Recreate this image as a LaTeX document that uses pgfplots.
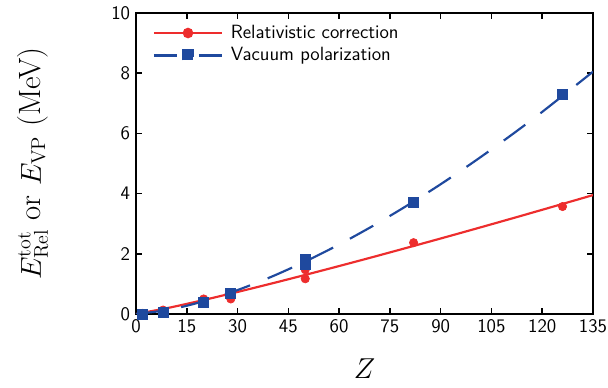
\documentclass[border=0pt]{standalone}
\usepackage{pgfplots}
\pgfplotsset{compat=1.18}
\definecolor{cred}{RGB}{237,45,45}
\definecolor{cblue}{RGB}{31,73,158}
\begin{document}
\begin{tikzpicture}
\begin{axis}[
  name=ax,
  scale only axis,
  width=274.2pt, height=180.6pt,
  xmin=0, xmax=135, ymin=0, ymax=10,
  xtick={0,15,30,45,60,75,90,105,120,135},
  ytick={0,2,4,6,8,10},
  tick align=inside,
  major tick length=3.6pt,
  axis line style={line width=0.9pt},
  every tick/.style={black, line width=0.9pt},
  tick label style={font=\sffamily\fontsize{11.5}{13}\selectfont},
  /pgf/number format/assume math mode=true,
  xlabel={\fontsize{18}{20}\selectfont $Z$},
  ylabel={\fontsize{18.5}{20}\selectfont $E^{\mathrm{tot}}_{\mathrm{Rel}}$ or $E_{\mathrm{VP}}$ (MeV)},
  xlabel style={at={(axis description cs:0.5,-0.18)}, anchor=center},
  ylabel style={at={(axis description cs:-0.225,0.5)}, anchor=center},
  legend style={draw=none, fill=none, at={(axis description cs:0.025,0.983)}, anchor=north west,
    font=\sffamily\fontsize{11.5}{13}\selectfont, row sep=0pt},
  legend cell align=left,
]
\addplot[cred, line width=1.3pt, smooth,
  legend image code/.code={\draw[cred, line width=1.3pt] (0pt,0pt) -- (41pt,0pt);
    \fill[cred] (20.5pt,0pt) circle (2.5pt); \path (43.5pt,0pt);}]
  coordinates {(0,0) (10,0.214) (20,0.465) (30,0.733) (40,1.011) (50,1.299) (60,1.593) (70,1.893) (80,2.199) (90,2.508) (100,2.822) (110,3.140) (120,3.462) (135,3.95)};
\addlegendentry{Relativistic correction}
\addplot[cblue, line width=1.3pt, smooth, dash pattern=on 16pt off 11.4pt,
  legend image code/.code={\draw[cblue, line width=1.3pt] (0pt,0pt) -- (14pt,0pt);
    \draw[cblue, line width=1.3pt] (27pt,0pt) -- (41pt,0pt);
    \fill[cblue] (17.5pt,-3pt) rectangle (23.5pt,3pt); \path (43.5pt,0pt);}]
  coordinates {(0,0) (10,0.146) (20,0.425) (30,0.795) (40,1.237) (50,1.744) (60,2.309) (70,2.928) (80,3.597) (90,4.311) (100,5.071) (110,5.873) (120,6.715) (135,8.05)};
\addlegendentry{Vacuum polarization}
\addplot[only marks, mark=*, mark size=2.5pt, cred, forget plot]
  coordinates {(2,0.02) (8,0.13) (20,0.5) (28,0.5) (28,0.65) (50,1.17) (50,1.47) (82,2.37) (126,3.57)};
\addplot[only marks, mark=square*, mark size=3pt, cblue, forget plot]
  coordinates {(2,0.0) (8,0.07) (20,0.4) (28,0.7) (50,1.65) (50,1.8) (82,3.7) (126,7.3)};
\end{axis}
\pgfresetboundingbox
\path ([xshift=-81.6pt,yshift=-44.4pt]ax.south west) rectangle ([xshift=9pt,yshift=7.8pt]ax.north east);
\end{tikzpicture}
\end{document}
